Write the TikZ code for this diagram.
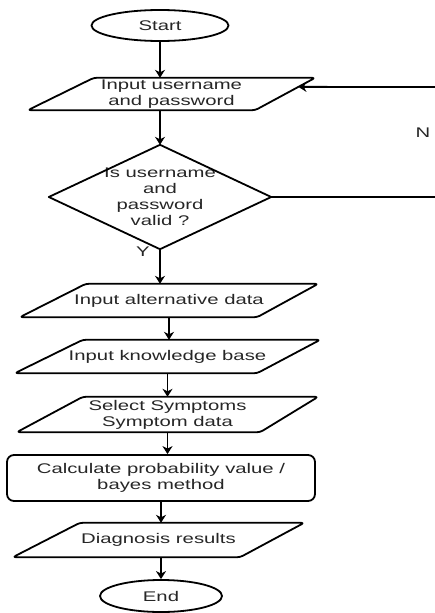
\documentclass[tikz,border=0pt]{standalone}
\usepackage{fontspec}
\setmainfont{Liberation Sans}[FakeStretch=1.45]
\usetikzlibrary{arrows.meta,calc,shapes.geometric}
\begin{document}
\begin{tikzpicture}[x=1pt,y=-1pt,
  every node/.style={font=\fontsize{14}{16}\selectfont, inner sep=0pt, align=center, text=black!85},
  ln/.style={line width=1.8pt, line join=round},
  arr/.style={ln, -{Stealth[length=8pt,width=10pt,inset=2.5pt]}},
  pbox/.style={draw=none, minimum height=#1},
]
\useasboundingbox (0,0) rectangle (435,613);
% nodes
\node[draw, line width=1.8pt, ellipse, minimum width=137pt, minimum height=31pt] (start) at (160,25.5) {Start};
\node[pbox=32pt, minimum width=287pt] (p1) at (171.5,94) {Input username\\and password};
\node[draw=none, minimum width=222pt, minimum height=104pt] (dia) at (160,197) {Is username\\and\\password\\valid ?};
\node[pbox=33pt, minimum width=298pt] (p2) at (169,300.5) {Input alternative data};
\node[pbox=33pt, minimum width=305pt] (p3) at (167.5,356.5) {Input knowledge base};
\node[pbox=35pt, minimum width=301pt] (p4) at (167.5,414.5) {Select Symptoms\\Symptom data};
\node[draw, line width=1.8pt, rounded corners=7pt, minimum width=308pt, minimum height=46pt] (calc) at (161,478) {Calculate probability value /\\bayes method};
\node[pbox=34pt, minimum width=291pt] (p5) at (158.5,540) {Diagnosis results};
\node[draw, line width=1.8pt, ellipse, minimum width=122pt, minimum height=32pt] (end) at (161,596) {End};
\node (nlab) at (423,133) {N};
\node (ylab) at (143,252) {Y};
% shapes
\draw[ln, rounded corners=3pt] ([xshift=66pt]p1.north west) -- (p1.north east) -- ([xshift=-60pt]p1.south east) -- (p1.south west) -- cycle;
\draw[ln] (dia.north) -- (dia.east) -- (dia.south) -- (dia.west) -- cycle;
\draw[ln, rounded corners=3pt] ([xshift=66pt]p2.north west) -- (p2.north east) -- ([xshift=-61pt]p2.south east) -- (p2.south west) -- cycle;
\draw[ln, rounded corners=3pt] ([xshift=68pt]p3.north west) -- (p3.north east) -- ([xshift=-63pt]p3.south east) -- (p3.south west) -- cycle;
\draw[ln, rounded corners=3pt] ([xshift=66pt]p4.north west) -- (p4.north east) -- ([xshift=-58pt]p4.south east) -- (p4.south west) -- cycle;
\draw[ln, rounded corners=3pt] ([xshift=67pt]p5.north west) -- (p5.north east) -- ([xshift=-64pt]p5.south east) -- (p5.south west) -- cycle;
% connectors
\draw[arr] (start.south) -- (start.south |- p1.north);
\draw[arr] (dia.north |- p1.south) -- (dia.north);
\draw[arr] (dia.south) -- (dia.south |- p2.north);
\draw[arr] (p2.south) -- (p2.south |- p3.north);
\draw[arr] (p3.south) -- (p3.south |- p4.north);
\draw[arr] (p4.south) -- (p4.south |- calc.north);
\draw[arr] (calc.south) -- (calc.south |- p5.north);
\draw[arr] (end.north |- p5.south) -- (end.north);
% loop back (runs off the right edge)
\coordinate (outr) at (436,197);
\coordinate (backr) at (436,87);
\coordinate (p1in) at ($(p1.north east)!0.28!([xshift=-60pt]p1.south east)$);
\draw[ln] (dia.east) -- (outr);
\draw[arr] (backr) -- (p1in);
\end{tikzpicture}
\end{document}
